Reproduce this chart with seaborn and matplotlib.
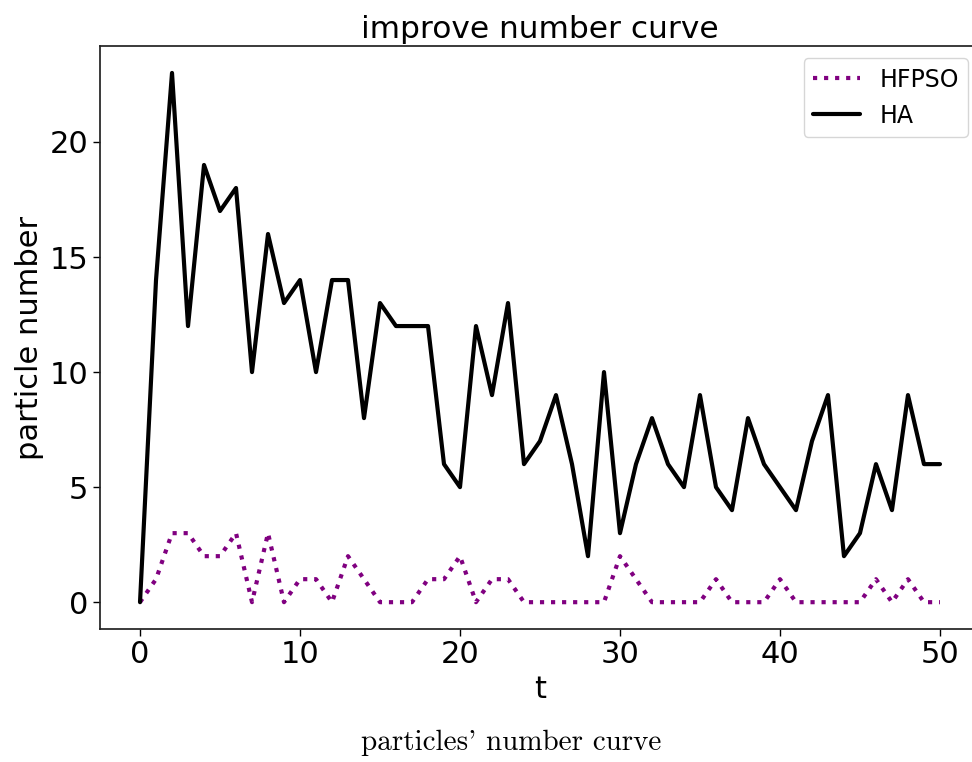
import numpy as np
import pandas as pd
import matplotlib
matplotlib.use("Agg")
import matplotlib.pyplot as plt
import seaborn as sns

t = list(range(51))
ha = [0, 14, 23, 12, 19, 17, 18, 10, 16, 13, 14, 10, 14, 14, 8, 13, 12, 12, 12, 6,
      5, 12, 9, 13, 6, 7, 9, 6, 2, 10, 3, 6, 8, 6, 5, 9, 5, 4, 8, 6,
      5, 4, 7, 9, 2, 3, 6, 4, 9, 6, 6]
hfpso = [0, 1, 3, 3, 2, 2, 3, 0, 3, 0, 1, 1, 0, 2, 1, 0, 0, 0, 1, 1,
         2, 0, 1, 1, 0, 0, 0, 0, 0, 0, 2, 1, 0, 0, 0, 0, 1, 0, 0, 0,
         1, 0, 0, 0, 0, 0, 1, 0, 1, 0, 0]

title = "improve number curve"
xlabel = "t"
ylabel = "particle number"
caption = "particles' number curve"

sns.set_theme(style="ticks", rc={"text.color": "black", "axes.labelcolor": "black",
                                 "xtick.color": "black", "ytick.color": "black"})
plt.rcParams['font.family'] = ['DejaVu Sans']

df = pd.DataFrame({"t": t, "HA": ha, "HFPSO": hfpso})

fig = plt.figure(figsize=(9.72, 7.62), dpi=100)
ax = fig.add_axes([0.1029, 0.175, 0.9053, 0.764])

sns.lineplot(data=df, x="t", y="HFPSO", ax=ax, color="purple", linestyle=":",
             linewidth=3, label="HFPSO")
sns.lineplot(data=df, x="t", y="HA", ax=ax, color="black", linestyle="-",
             linewidth=3, label="HA")

ax.set_xlim(-2.5, 52.5)
ax.set_ylim(-1.15, 24.15)
ax.set_xticks([0, 10, 20, 30, 40, 50])
ax.set_yticks([0, 5, 10, 15, 20])
ax.tick_params(labelsize=22, colors="black", width=1, length=5)
for s in ax.spines.values():
    s.set_color("#222222")
ax.set_title(title, fontsize=22.5, color="black")
ax.set_xlabel(xlabel, fontsize=22, color="black")
ax.set_ylabel(ylabel, fontsize=22, color="black")
leg = ax.legend(loc="upper right", fontsize=17, handlelength=2.0)

fig.text(0.526, 0.008, caption, fontsize=21, family="cmr10", ha="center", va="bottom",
         color="black")

fig.savefig("out.png", dpi=100)
